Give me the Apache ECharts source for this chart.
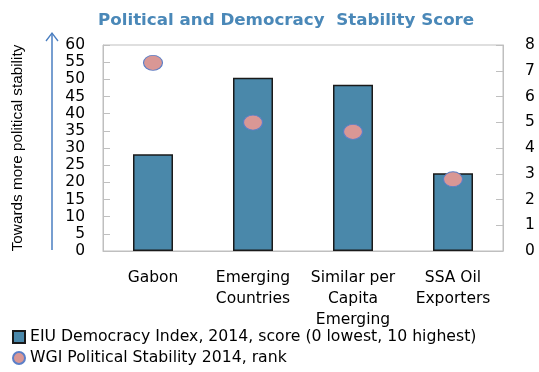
<!DOCTYPE html>
<html>
<head>
<meta charset="utf-8">
<script src="https://cdn.jsdelivr.net/npm/echarts@6/dist/echarts.min.js"></script>
<style>
  html, body { margin: 0; padding: 0; background: #fff; }
  #chart { width: 539px; height: 372px; }
</style>
</head>
<body>
<div id="chart"></div>
<script>
// Categories and the two series
const categories = ['Gabon', 'Emerging\nCountries', 'Similar per\nCapita\nEmerging', 'SSA Oil\nExporters'];
const eiuScore = [3.76, 6.73, 6.46, 3.02];      // EIU Democracy Index 2014 (right axis, 0-8)
const wgiRank = [54.8, 37.4, 34.7, 20.9];       // WGI Political Stability rank (left axis, 0-60)

const eiuName = 'EIU Democracy Index, 2014, score (0 lowest, 10 highest)';
const wgiName = 'WGI Political Stability 2014, rank';

const baseFont = 'DejaVu Sans';
const gridGray = '#BFBFBF';

const chart = echarts.init(document.getElementById('chart'), null, { renderer: 'canvas' });

// One legend block per series so each row sits on its own line
function legendRow(name, icon, top) {
  return {
    orient: 'horizontal',
    left: 12,
    top: top,
    padding: 0,
    itemWidth: 12,
    itemHeight: 12,
    textStyle: { fontFamily: baseFont, fontSize: 15.7, color: '#000' },
    data: [{ name: name, icon: icon }]
  };
}

chart.setOption({
  animation: false,
  backgroundColor: '#ffffff',
  title: {
    text: 'Political and Democracy  Stability Score',
    left: 93,
    top: 7,
    textStyle: { fontFamily: 'DejaVu Sans', fontWeight: 'bold', fontSize: 16.7, color: '#4A88B8' }
  },
  grid: {
    left: 103, right: 36, top: 45, bottom: 121,
    show: true, borderColor: gridGray, borderWidth: 1
  },
  legend: [
    legendRow(eiuName, 'rect', 329),
    legendRow(wgiName, 'circle', 350)
  ],
  xAxis: {
    type: 'category',
    data: categories,
    axisLine: { lineStyle: { color: gridGray, width: 1 } },
    axisTick: { inside: true, length: 5, lineStyle: { color: gridGray } },
    axisLabel: {
      fontFamily: baseFont, fontSize: 15.5, color: '#000',
      lineHeight: 21, margin: 16, interval: 0
    }
  },
  yAxis: [
    {
      type: 'value',
      min: 0, max: 60, interval: 5,
      position: 'left',
      name: 'Towards more political stability',
      nameLocation: 'middle',
      nameRotate: 90,
      nameGap: 78,
      nameTextStyle: { fontFamily: 'Liberation Sans', fontSize: 15.3, color: '#000' },
      axisLine: { show: true, lineStyle: { color: gridGray } },
      axisTick: { show: true, inside: true, length: 7, lineStyle: { color: gridGray } },
      axisLabel: { fontFamily: baseFont, fontSize: 15.5, color: '#000', margin: 18 },
      splitLine: { show: false }
    },
    {
      type: 'value',
      min: 0, max: 8, interval: 1,
      position: 'right',
      axisLine: { show: true, lineStyle: { color: gridGray } },
      axisTick: { show: true, inside: true, length: 7, lineStyle: { color: gridGray } },
      axisLabel: { fontFamily: baseFont, fontSize: 15.5, color: '#000', margin: 22 },
      splitLine: { show: false }
    }
  ],
  graphic: [
    {
      type: 'line',
      shape: { x1: 52, y1: 250, x2: 52, y2: 33 },
      style: { stroke: '#4A7EC0', lineWidth: 1.5 },
      silent: true
    },
    {
      type: 'polyline',
      shape: { points: [[46, 41], [52, 33], [58, 41]] },
      style: { stroke: '#4A7EC0', lineWidth: 1.3, fill: null },
      silent: true
    }
  ],
  series: [
    {
      name: eiuName,
      type: 'bar',
      yAxisIndex: 1,
      data: eiuScore,
      barWidth: '40%',
      itemStyle: { color: '#4A88AA', borderColor: '#1A1A1A', borderWidth: 1.5 }
    },
    {
      name: wgiName,
      type: 'scatter',
      yAxisIndex: 0,
      data: wgiRank,
      symbol: 'circle',
      symbolSize: [19, 15],
      itemStyle: { color: '#D99795', borderColor: '#5B7FC8', borderWidth: 1, opacity: 1 },
      z: 5
    }
  ]
});
</script>
</body>
</html>
